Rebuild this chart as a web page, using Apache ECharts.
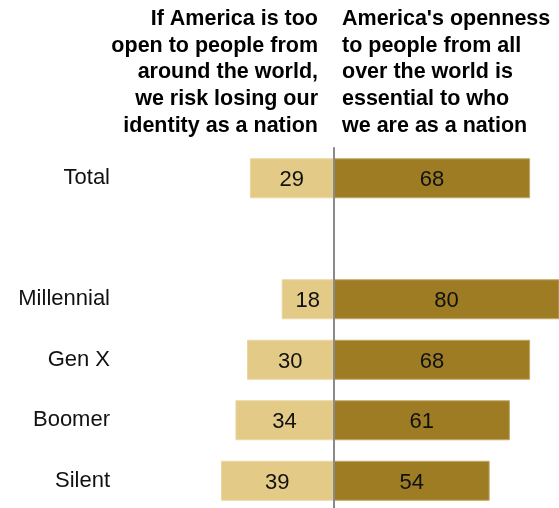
<!DOCTYPE html>
<html>
<head>
<meta charset="utf-8">
<script src="https://cdn.jsdelivr.net/npm/echarts@6/dist/echarts.min.js"></script>
<style>
html,body{margin:0;padding:0;background:#fff;}
#c{width:559px;height:508px;}
</style>
</head>
<body>
<div id="c"></div>
<script>
var categories = ['Total', '', 'Millennial', 'Gen X', 'Boomer', 'Silent'];
var riskValues = [29, null, 18, 30, 34, 39];
var opennessValues = [68, null, 80, 68, 61, 54];
var leftHeader = 'If America is too\nopen to people from\naround the world,\nwe risk losing our\nidentity as a nation';
var rightHeader = "America's openness\nto people from all\nover the world is\nessential to who\nwe are as a nation";

var chart = echarts.init(document.getElementById('c'), null, {renderer: 'canvas'});
var labelStyle = {
  show: true, position: 'inside', fontSize: 22, color: '#111',
  fontFamily: 'Liberation Sans, Arial, sans-serif', offset: [0, 2],
  formatter: function (p) { return p.value == null ? '' : Math.abs(p.value); }
};
chart.setOption({
  animation: false,
  grid: {left: 0, right: 0, top: 148, bottom: -3, containLabel: false, outerBoundsMode: 'none'},
  xAxis: {type: 'value', min: -115.5, max: 78, show: false, splitLine: {show: false}},
  yAxis: {
    type: 'category', inverse: true, data: categories, z: 10,
    axisLine: {show: true, onZero: true, lineStyle: {color: '#8a8a8a', width: 2}},
    axisTick: {show: false},
    axisLabel: {margin: -110, fontSize: 22, color: '#111', fontFamily: 'Liberation Sans, Arial, sans-serif', align: 'right', padding: [4, 0, 0, 0]}
  },
  series: [
    {
      type: 'bar', name: 'risk', barWidth: 40, barGap: '-100%',
      data: riskValues.map(function (v) { return v == null ? null : -v; }),
      itemStyle: {color: '#e3ca87', borderColor: '#ead7a4', borderWidth: 1},
      label: labelStyle
    },
    {
      type: 'bar', name: 'openness', barWidth: 40, barGap: '-100%',
      data: opennessValues,
      itemStyle: {color: '#9e7c24', borderColor: '#c2a869', borderWidth: 1},
      label: labelStyle
    }
  ],
  graphic: [
    {type: 'text', x: 318, y: 6, style: {text: leftHeader, align: 'right', verticalAlign: 'top', font: 'bold 21.5px Liberation Sans, Arial, sans-serif', lineHeight: 26.6, fill: '#000'}},
    {type: 'text', x: 342, y: 6, style: {text: rightHeader, align: 'left', verticalAlign: 'top', font: 'bold 21.5px Liberation Sans, Arial, sans-serif', lineHeight: 26.6, fill: '#000'}}
  ]
});
</script>
</body>
</html>
